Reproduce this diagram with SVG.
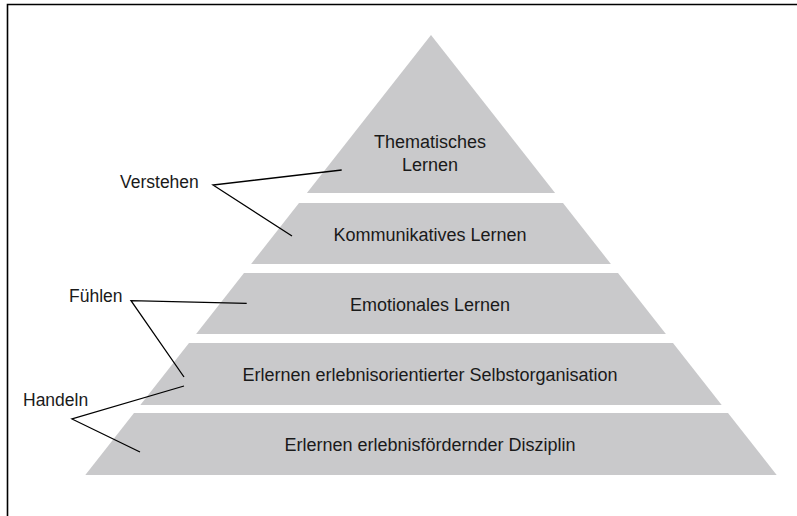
<svg xmlns="http://www.w3.org/2000/svg" width="797" height="516" viewBox="0 0 797 516">
<style>
.layer{fill:#c9c9cb;}
.t{font-family:"Liberation Sans",Arial,sans-serif;font-size:18px;fill:#1a1a1a;text-anchor:middle;}
.lbl{font-family:"Liberation Sans",Arial,sans-serif;font-size:17.5px;fill:#1a1a1a;}
.conn{stroke:#000;stroke-width:1.3;fill:none;}
.frame{stroke:#000;stroke-width:1.6;fill:none;}
</style>
<rect width="797" height="516" fill="#fff"/>
<path class="frame" d="M7.5,516 V4.5 H797"/>
<g id="layer1">
<polygon class="layer" points="431,35 555.1,193 306.9,193"/>
<text class="t" x="430" y="148">Thematisches</text>
<text class="t" x="430" y="171">Lernen</text>
</g>
<g id="layer2">
<polygon class="layer" points="299,203 563,203 610.9,264 251.1,264"/>
<text class="t" x="430" y="241">Kommunikatives Lernen</text>
</g>
<g id="layer3">
<polygon class="layer" points="244,273 618,273 665.9,334 196.1,334"/>
<text class="t" x="430" y="311">Emotionales Lernen</text>
</g>
<g id="layer4">
<polygon class="layer" points="189,343 673,343 721.7,405 140.3,405"/>
<text class="t" x="430" y="381">Erlernen erlebnisorientierter Selbstorganisation</text>
</g>
<g id="layer5">
<polygon class="layer" points="134,413 728,413 776.7,475 85.3,475"/>
<text class="t" x="430" y="451">Erlernen erlebnisfördernder Disziplin</text>
</g>
<g id="label-verstehen">
<text class="lbl" x="120" y="188">Verstehen</text>
</g>
<g id="label-fuehlen">
<text class="lbl" x="69" y="302">Fühlen</text>
</g>
<g id="label-handeln">
<text class="lbl" x="23" y="406">Handeln</text>
</g>
<g id="connectors">
<polyline class="conn" points="341.7,170 213,185 292,236"/>
<polyline class="conn" points="246.7,303.3 131,300.7 184,377"/>
<polyline class="conn" points="184,386 72,419 140,452"/>
</g>
</svg>
